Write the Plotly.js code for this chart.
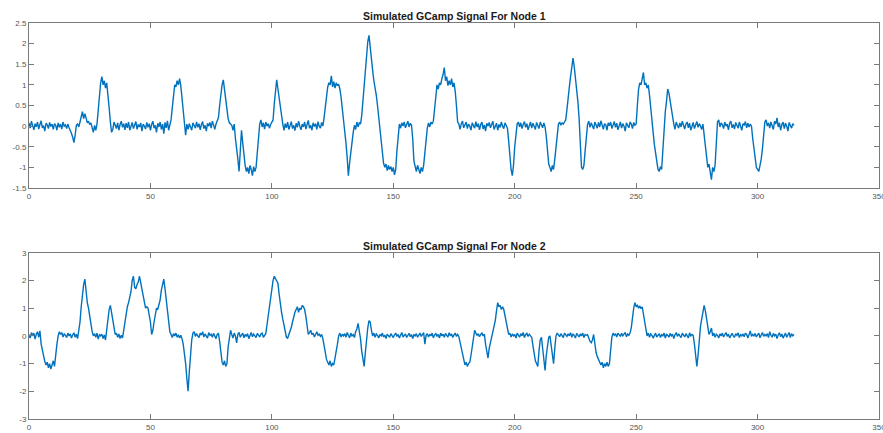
<!DOCTYPE html>
<html>
<head>
<meta charset="utf-8">
<script src="https://cdn.plot.ly/plotly-3.0.1.min.js"></script>
<style>
  html, body { margin: 0; padding: 0; background: #ffffff; }
  #chart { width: 883px; height: 433px; }
</style>
</head>
<body>
<div id="chart"></div>
<script>
// Sample spacing of both recordings (time units)
const dt = 0.5;

// Simulated GCaMP trace, node 1 (one row = 10 time units)
const node1 = [
  0.08, -0.05, 0.12, 0.02, -0.09, 0.06, -0.02, 0.1, -0.07, 0.04, 0.13, -0.04, 0.01, -0.12, 0.07, 0.03, -0.06, 0.09, -0.01, 0.05,
  -0.08, 0.06, 0.02, -0.1, 0.08, -0.03, 0.05, -0.07, 0.1, 0.0, 0.03, -0.06, 0.05, -0.04, -0.1, -0.18, -0.27, -0.4, -0.22, 0.02,
  0.05, -0.02, 0.1, 0.22, 0.35, 0.18, 0.3, 0.2, 0.08, 0.12, 0.04, 0.08, -0.05, -0.15, 0.02, -0.1, 0.05, 0.45, 0.85, 1.05,
  1.2, 1.0, 1.1, 0.92, 1.05, 0.8, 0.45, 0.1, -0.15, -0.08, 0.1, 0.02, -0.06, 0.08, -0.1, 0.04, 0.12, -0.03, 0.06, -0.09,
  0.07, -0.04, 0.1, -0.1, 0.03, 0.09, -0.06, 0.01, 0.11, -0.08, 0.04, -0.02, 0.08, -0.12, 0.05, 0.0, -0.07, 0.09, -0.03, 0.06,
  -0.1, 0.04, 0.12, -0.05, 0.02, -0.15, 0.07, -0.02, 0.1, -0.08, 0.05, -0.18, 0.09, -0.04, 0.13, -0.1, 0.03, 0.15, 0.45, 0.82,
  1.0, 0.95, 1.1, 1.0, 1.15, 0.98, 0.7, 0.4, 0.1, -0.22, 0.05, -0.08, 0.06, 0.0, -0.1, 0.08, 0.02, -0.05, 0.1, -0.03,
  0.06, -0.09, 0.04, 0.11, -0.06, 0.02, -0.12, 0.07, 0.0, 0.09, -0.05, 0.12, 0.03, -0.08, 0.05, 0.12, 0.2, 0.5, 0.8, 1.0,
  1.12, 0.85, 0.6, 0.4, 0.18, 0.08, 0.05, 0.02, -0.1, 0.05, -0.3, -0.5, -0.8, -1.1, -0.6, -0.1, -0.4, -0.75, -0.95, -1.1,
  -1.0, -1.15, -0.95, -1.05, -1.2, -0.98, -1.1, -1.0, -0.7, -0.3, 0.05, 0.15, -0.02, 0.08, -0.07, 0.1, 0.0, 0.06, -0.05, 0.04,
  0.08, 0.15, 0.55, 0.95, 1.12, 0.9, 0.65, 0.4, 0.2, 0.05, -0.1, 0.06, -0.04, 0.1, -0.08, 0.03, 0.11, -0.06, 0.02, -0.11,
  0.07, -0.03, 0.12, 0.0, -0.09, 0.05, -0.02, 0.1, -0.07, 0.04, 0.14, -0.05, 0.02, -0.1, 0.08, -0.01, 0.06, -0.08, 0.11, 0.0,
  -0.05, 0.09, 0.0, 0.2, 0.5, 0.75, 0.95, 1.05, 1.0, 1.22, 0.95, 1.08, 0.92, 1.05, 0.98, 1.02, 0.9, 0.7, 0.45, 0.2,
  -0.05, -0.4, -0.75, -1.2, -0.9, -0.6, -0.35, -0.15, 0.02, -0.08, 0.1, -0.02, 0.08, 0.05, 0.25, 0.6, 1.0, 1.4, 1.8, 2.05,
  2.2, 1.85, 1.55, 1.35, 1.1, 0.95, 0.75, 0.5, 0.2, -0.05, -0.4, -0.75, -0.9, -1.0, -0.92, -1.08, -0.95, -1.05, -0.98, -1.1,
  -1.0, -1.18, -1.05, -0.6, -0.15, 0.05, -0.05, 0.08, 0.0, 0.1, -0.04, 0.06, 0.12, -0.02, 0.07, 0.02, -0.3, -0.85, -1.0, -1.1,
  -0.95, -1.05, -1.15, -1.0, -1.1, -0.95, -0.65, -0.3, -0.05, 0.08, -0.02, 0.1, 0.05, 0.12, 0.35, 0.7, 1.0, 0.9, 1.05, 1.0,
  1.15, 1.25, 1.42, 1.1, 1.2, 0.98, 1.1, 1.0, 1.15, 0.95, 1.05, 0.85, 0.5, 0.1, 0.05, -0.08, 0.06, 0.12, -0.04, 0.03,
  0.1, -0.06, 0.05, 0.0, -0.1, 0.08, 0.02, -0.05, 0.11, -0.02, 0.06, -0.09, 0.04, 0.1, -0.07, 0.03, -0.12, 0.07, 0.0, 0.09,
  -0.04, 0.05, 0.12, -0.08, 0.02, 0.07, -0.1, 0.04, -0.03, 0.1, 0.0, -0.06, 0.08, 0.02, -0.05, -0.35, -0.75, -1.05, -1.2, -0.95,
  -0.5, -0.15, 0.05, 0.1, -0.02, 0.08, -0.06, 0.04, 0.11, -0.03, 0.06, -0.09, 0.03, 0.1, -0.05, 0.07, 0.0, -0.08, 0.09, 0.02,
  -0.06, 0.1, 0.03, -0.04, 0.08, -0.02, -0.25, -0.6, -0.92, -1.0, -1.1, -0.95, -1.05, -0.8, -0.5, -0.1, 0.05, 0.1, 0.02, 0.08,
  0.05, 0.1, 0.15, 0.4, 0.75, 0.95, 1.2, 1.45, 1.65, 1.45, 1.2, 0.9, 0.6, 0.2, -0.5, -1.0, -1.05, -0.95, -0.6, -0.25,
  0.05, 0.12, -0.03, 0.08, 0.02, -0.07, 0.1, 0.04, -0.05, 0.09, -0.02, 0.13, 0.0, -0.08, 0.06, 0.03, -0.1, 0.08, 0.01, 0.1,
  -0.06, 0.04, 0.11, -0.03, 0.07, -0.09, 0.02, 0.1, -0.05, 0.06, 0.0, -0.12, 0.08, 0.03, -0.04, 0.1, 0.05, -0.06, 0.09, 0.02,
  0.05, 0.5, 0.9, 1.05, 1.0, 1.15, 1.3, 1.0, 1.05, 0.92, 1.0, 0.75, 0.5, 0.15, -0.15, -0.45, -0.7, -0.95, -1.05, -1.1,
  -0.98, -1.05, -0.55, 0.0, 0.35, 0.6, 0.9, 0.8, 0.6, 0.35, 0.15, 0.05, -0.08, 0.1, 0.02, -0.05, 0.08, -0.02, 0.12, 0.0,
  -0.07, 0.05, 0.1, -0.04, 0.07, -0.1, 0.03, 0.09, -0.06, 0.04, 0.11, -0.03, 0.06, 0.0, -0.08, 0.05, -0.2, -0.5, -0.85, -1.0,
  -0.92, -1.1, -1.3, -1.0, -1.1, -0.95, -0.35, 0.1, 0.15, -0.02, 0.08, 0.03, -0.06, 0.1, 0.0, 0.05, -0.09, 0.07, 0.12, -0.04,
  0.04, -0.07, 0.09, 0.02, -0.05, 0.1, 0.0, -0.1, 0.06, 0.03, 0.11, -0.04, 0.07, -0.02, 0.05, 0.0, -0.3, -0.55, -0.85, -1.0,
  -1.05, -1.1, -0.95, -0.8, -0.55, -0.15, 0.1, 0.15, 0.0, 0.08, -0.05, 0.1, 0.03, -0.08, 0.12, 0.05, 0.2, -0.02, 0.08, -0.1,
  0.04, 0.1, -0.06, 0.07, 0.0, -0.12, 0.09, 0.03, -0.05, 0.06, 0.02
];

// Simulated GCaMP trace, node 2 (one row = 10 time units)
const node2 = [
  0.05, -0.08, 0.12, 0.0, 0.1, -0.12, 0.06, 0.15, -0.05, 0.18, -0.3, -0.55, -0.75, -0.92, -1.05, -0.95, -1.15, -1.0, -1.2, -1.05,
  -0.9, -1.1, -0.6, -0.3, 0.0, 0.15, 0.05, 0.12, -0.04, 0.08, 0.02, -0.06, 0.1, 0.0, 0.07, -0.08, 0.04, 0.11, -0.05, 0.06,
  -0.1, 0.15, 0.5, 1.05, 1.5, 1.85, 2.05, 1.55, 1.2, 1.0, 0.7, 0.4, 0.15, 0.0, 0.08, -0.05, 0.1, -0.12, 0.04, 0.0,
  0.06, -0.1, 0.03, -0.15, 0.3, 0.75, 0.95, 1.1, 0.85, 0.55, 0.25, 0.05, 0.1, -0.05, 0.07, -0.1, 0.02, -0.08, 0.2, 0.55,
  0.8, 1.05, 1.2, 1.4, 1.6, 2.0, 2.15, 1.75, 1.7, 1.85, 1.95, 2.15, 1.9, 1.7, 1.4, 1.1, 1.0, 1.05, 1.0, 0.75,
  0.5, 0.05, 0.2, 0.5, 0.8, 1.0, 0.95, 1.15, 1.3, 1.65, 1.85, 2.05, 1.7, 1.25, 0.85, 0.45, 0.15, 0.05, -0.06, 0.08,
  0.0, 0.1, -0.05, 0.04, -0.08, 0.02, -0.1, -0.3, -0.6, -1.0, -1.55, -2.0, -1.3, -0.6, -0.15, 0.1, 0.15, -0.02, 0.08, 0.0,
  -0.06, 0.1, 0.03, 0.15, -0.04, 0.07, 0.0, -0.08, 0.12, 0.02, 0.06, -0.05, 0.09, 0.0, -0.1, 0.05, 0.1, -0.2, -0.6, -0.95,
  -1.05, -0.9, -1.1, -1.0, -0.4, 0.0, 0.2, 0.05, -0.08, 0.1, 0.0, -0.25, 0.06, 0.12, -0.05, 0.03, 0.1, -0.07, 0.05, -0.02,
  0.08, -0.1, 0.04, 0.12, -0.03, 0.06, 0.0, -0.06, 0.09, 0.02, -0.04, 0.07, 0.1, -0.05, 0.03, 0.08, 0.4, 0.75, 1.1, 1.5,
  1.85, 2.0, 2.15, 2.05, 2.0, 1.9, 1.5, 1.1, 0.85, 0.6, 0.35, 0.1, -0.05, -0.08, 0.05, 0.15, 0.3, 0.5, 0.7, 0.85,
  0.95, 1.05, 0.85, 1.0, 0.95, 1.1, 1.05, 0.95, 0.7, 0.35, 0.05, 0.12, 0.2, 0.05, 0.1, -0.04, 0.08, 0.15, 0.02, 0.06,
  -0.02, 0.05, -0.1, -0.3, -0.6, -0.85, -0.95, -1.05, -0.9, -1.1, -1.0, -1.05, -0.8, -0.6, -0.3, 0.0, 0.1, -0.04, 0.06, 0.0,
  0.08, -0.05, 0.12, 0.02, -0.07, 0.1, 0.0, 0.05, -0.06, 0.15, 0.25, 0.45, 0.2, -0.1, -0.55, -0.9, -1.1, -0.6, -0.1, 0.3,
  0.55, 0.5, 0.2, 0.0, 0.1, -0.05, 0.07, 0.02, -0.08, 0.05, 0.0, 0.1, -0.04, 0.03, -0.1, 0.06, 0.01, -0.05, 0.08, 0.0,
  -0.06, 0.04, 0.1, -0.02, 0.05, -0.08, 0.03, 0.12, -0.04, 0.0, 0.07, -0.06, 0.02, 0.09, -0.03, 0.05, -0.1, 0.04, 0.0, 0.08,
  -0.05, 0.06, 0.1, -0.02, 0.04, 0.12, -0.3, 0.02, 0.08, -0.04, 0.06, 0.0, 0.1, -0.07, 0.03, 0.08, -0.02, 0.05, -0.08, 0.1,
  0.0, 0.06, -0.05, 0.09, 0.02, -0.04, 0.11, 0.0, 0.07, -0.06, 0.04, 0.1, -0.02, 0.05, -0.03, -0.25, -0.4, -0.7, -0.9, -1.05,
  -0.95, -1.1, -1.0, -0.95, -0.7, -0.4, -0.1, 0.2, 0.1, 0.02, 0.08, -0.03, 0.05, 0.1, 0.0, 0.06, -0.3, -0.55, -0.8, -0.45,
  -0.2, 0.0, 0.15, 0.35, 0.55, 0.9, 1.2, 1.05, 1.1, 0.95, 1.05, 0.95, 0.7, 0.45, 0.15, 0.05, 0.1, -0.04, 0.07, 0.0,
  0.05, -0.08, 0.1, 0.02, -0.05, 0.08, 0.0, 0.12, -0.06, 0.04, 0.09, -0.02, 0.06, 0.0, -0.05, -0.35, -0.65, -0.9, -1.0, -1.1,
  -0.55, -0.15, -0.05, -0.5, -1.0, -1.25, -0.7, -0.3, -0.05, 0.0, -0.35, -0.85, -1.0, -0.45, 0.0, 0.1, 0.05, -0.03, 0.08, 0.02,
  -0.06, 0.1, 0.04, -0.02, 0.07, 0.0, 0.11, -0.05, 0.06, 0.02, -0.08, 0.09, 0.03, -0.04, 0.07, 0.0, 0.1, -0.06, 0.05, 0.02,
  0.04, -0.1, -0.2, -0.25, -0.15, 0.05, -0.3, -0.6, -0.75, -0.85, -0.9, -1.05, -0.95, -1.15, -1.0, -1.1, -0.95, -1.1, -1.0, -0.5,
  -0.05, 0.1, 0.02, 0.08, -0.04, 0.1, 0.05, -0.02, 0.09, 0.0, 0.06, 0.12, -0.03, 0.07, 0.02, 0.1, 0.3, 0.7, 1.0, 1.2,
  1.05, 1.1, 1.0, 1.08, 0.98, 1.05, 0.8, 0.5, 0.2, 0.0, 0.1, -0.05, 0.07, 0.02, -0.08, 0.05, 0.1, -0.04, 0.03, 0.08,
  -0.06, 0.04, 0.0, 0.1, -0.08, 0.05, 0.02, -0.05, 0.09, 0.0, 0.06, -0.1, 0.04, 0.12, -0.02, 0.07, 0.0, -0.06, 0.1, 0.03,
  -0.04, 0.08, 0.02, -0.07, 0.11, 0.0, 0.05, 0.02, -0.3, -0.8, -1.1, -0.7, -0.1, 0.35, 0.6, 0.95, 1.1, 0.9, 0.55, 0.3,
  0.05, 0.15, 0.28, 0.0, 0.1, -0.05, 0.06, 0.02, -0.08, 0.07, 0.0, 0.1, -0.04, 0.05, 0.12, -0.02, 0.06, -0.07, 0.03, 0.09,
  0.0, -0.05, 0.08, 0.02, 0.11, -0.06, 0.04, 0.0, 0.07, -0.03, 0.1, 0.05, -0.08, 0.06, 0.18, -0.02, 0.05, 0.0, 0.09, -0.04,
  0.06, 0.1, -0.07, 0.03, 0.12, -0.02, 0.05, 0.0, 0.08, -0.06, 0.15, 0.02, -0.05, 0.09, 0.0, 0.06, -0.1, 0.04, 0.11, -0.03,
  0.07, -0.08, 0.02, 0.1, -0.05, 0.04, 0.12, -0.06, 0.08, 0.0, 0.05
];

const titles = ['Simulated GCamp Signal For Node 1', 'Simulated GCamp Signal For Node 2'];

const xTickVals = [0, 50, 100, 150, 200, 250, 300, 350];
const xTickText = ['0', '50', '100', '150', '200', '250', '300', '350'];
const y1TickVals = [-1.5, -1, -0.5, 0, 0.5, 1, 1.5, 2, 2.5];
const y1TickText = ['-1.5', '-1', '-0.5', '0', '0.5', '1', '1.5', '2', '2.5'];
const y2TickVals = [-3, -2, -1, 0, 1, 2, 3];
const y2TickText = ['-3', '-2', '-1', '0', '1', '2', '3'];

const time1 = node1.map((_, i) => i * dt);
const time2 = node2.map((_, i) => i * dt);

const FONT = 'Liberation Sans, Arial, Helvetica, sans-serif';
const lineBlue = '#0072BD';

const axisBase = {
  showline: true,
  mirror: 'ticks',
  linecolor: '#7a7a7a',
  linewidth: 1,
  ticks: 'inside',
  ticklen: 5,
  tickwidth: 1,
  tickcolor: '#7a7a7a',
  showgrid: false,
  zeroline: false,
  fixedrange: true,
  ticklabeloverflow: 'allow',
  tickfont: { family: FONT, size: 8, color: '#555555' }
};

const traceLine = { color: lineBlue, width: 1.4 };

const traces = [
  { x: time1, y: node1, xaxis: 'x', yaxis: 'y', type: 'scatter', mode: 'lines',
    line: traceLine, hoverinfo: 'skip' },
  { x: time2, y: node2, xaxis: 'x2', yaxis: 'y2', type: 'scatter', mode: 'lines',
    line: traceLine, hoverinfo: 'skip' }
];

const layout = {
  width: 883,
  height: 433,
  margin: { l: 29, r: 4, t: 0, b: 0 },
  paper_bgcolor: '#ffffff',
  plot_bgcolor: '#ffffff',
  showlegend: false,
  xaxis: Object.assign({}, axisBase, {
    domain: [0, 1], anchor: 'y', range: [0, 350],
    tickmode: 'array', tickvals: xTickVals, ticktext: xTickText
  }),
  yaxis: Object.assign({}, axisBase, {
    domain: [0.5658, 0.9469], anchor: 'x', range: [-1.5, 2.5],
    tickmode: 'array', tickvals: y1TickVals, ticktext: y1TickText
  }),
  xaxis2: Object.assign({}, axisBase, {
    domain: [0, 1], anchor: 'y2', range: [0, 350],
    tickmode: 'array', tickvals: xTickVals, ticktext: xTickText
  }),
  yaxis2: Object.assign({}, axisBase, {
    domain: [0.0323, 0.4164], anchor: 'x2', range: [-3, 3],
    tickmode: 'array', tickvals: y2TickVals, ticktext: y2TickText
  }),
  annotations: [
    { text: titles[0], xref: 'paper', yref: 'paper', x: 0.5, y: 0.9642,
      xanchor: 'center', yanchor: 'middle', showarrow: false,
      font: { family: FONT, size: 10.5, color: '#1a1a1a', weight: 'bold' } },
    { text: titles[1], xref: 'paper', yref: 'paper', x: 0.5, y: 0.433,
      xanchor: 'center', yanchor: 'middle', showarrow: false,
      font: { family: FONT, size: 10.5, color: '#1a1a1a', weight: 'bold' } }
  ]
};

Plotly.newPlot('chart', traces, layout, { displayModeBar: false, staticPlot: true });
</script>
</body>
</html>
